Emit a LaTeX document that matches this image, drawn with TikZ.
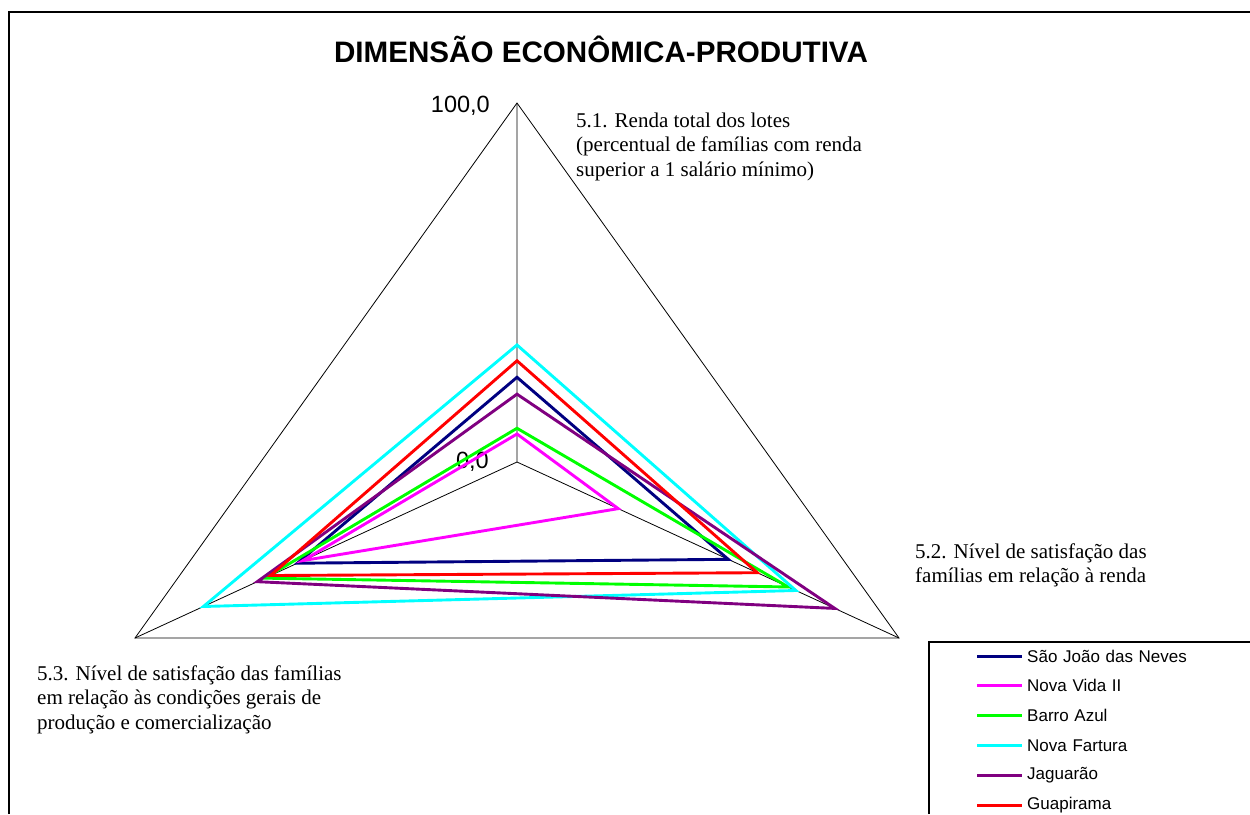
\documentclass[tikz,border=0pt]{standalone}
\usepackage{fontspec}
\setmainfont{Liberation Serif}
\setsansfont{Liberation Sans}
\usetikzlibrary{positioning,calc}
\definecolor{sjneves}{RGB}{0,0,128}
\definecolor{novavida}{RGB}{255,0,255}
\definecolor{barroazul}{RGB}{0,255,0}
\definecolor{novafartura}{RGB}{0,255,255}
\definecolor{jaguarao}{RGB}{128,0,128}
\definecolor{guapirama}{RGB}{255,0,0}

\begin{document}
\begin{tikzpicture}[x=1pt, y=-1pt, node distance=0pt]
    \tikzstyle{axis} = [line width=0.8pt, black]
    \tikzstyle{serie} = [line width=2.9pt, line join=miter]
    \tikzstyle{axislabel} = [font=\fontsize{21}{24.5}\selectfont, align=left,
        anchor=base west, inner sep=0pt]
    \tikzstyle{scalelabel} = [font=\sffamily\fontsize{23.5}{26}\selectfont,
        anchor=base east, inner sep=0pt]
    \tikzstyle{legtext} = [font=\sffamily\fontsize{17}{20}\selectfont,
        text width=200pt, minimum height=29.4pt, inner sep=0pt, align=left]
    \tikzstyle{legline} = [line width=3pt]

    \useasboundingbox (0,0) rectangle (1250,814);
    \draw [line width=2pt] (9,814) -- (9,12) -- (1250,12);
    \node [font=\sffamily\bfseries\fontsize{29.6}{32}\selectfont, anchor=base] (title) at (601,62) {DIMENSÃO ECONÔMICA-PRODUTIVA};

    % axes
    \coordinate (centre) at (517,462);
    \coordinate (renda) at (517,103);
    \coordinate (satrenda) at (899,638);
    \coordinate (satprod) at (135,638);
    \draw [axis] (renda) -- (satrenda) -- (satprod) -- cycle;
    \draw [axis] (centre) -- (renda) (centre) -- (satrenda) (centre) -- (satprod);
    \node [scalelabel] (max) at (490,112) {100,0};
    \node [scalelabel] (min) at (489,468) {0,0};

    % labels (anchored on the last line)
    \node [axislabel] (lbrenda) at (576,176) {5.1. Renda total dos lotes\\(percentual de famílias com renda\\superior a 1 salário mínimo)};
    \node [axislabel] (lbsatrenda) at (915,582.5) {5.2. Nível de satisfação das\\famílias em relação à renda};
    \node [axislabel] (lbsatprod) at (37,729) {5.3. Nível de satisfação das famílias\\em relação às condições gerais de\\produção e comercialização};

    % series
    \draw [serie, sjneves] ($(centre)!0.236!(renda)$) -- ($(centre)!0.553!(satrenda)$) -- ($(centre)!0.575!(satprod)$) -- cycle;
    \draw [serie, novavida] ($(centre)!0.078!(renda)$) -- ($(centre)!0.265!(satrenda)$) -- ($(centre)!0.56!(satprod)$) -- cycle;
    \draw [serie, barroazul] ($(centre)!0.094!(renda)$) -- ($(centre)!0.71!(satrenda)$) -- ($(centre)!0.66!(satprod)$) -- cycle;
    \draw [serie, novafartura] ($(centre)!0.326!(renda)$) -- ($(centre)!0.73!(satrenda)$) -- ($(centre)!0.821!(satprod)$) -- cycle;
    \draw [serie, jaguarao] ($(centre)!0.189!(renda)$) -- ($(centre)!0.832!(satrenda)$) -- ($(centre)!0.68!(satprod)$) -- cycle;
    \draw [serie, guapirama] ($(centre)!0.282!(renda)$) -- ($(centre)!0.629!(satrenda)$) -- ($(centre)!0.645!(satprod)$) -- cycle;

    % legend
    \draw [line width=1.2pt] (929,814) -- (929,642) -- (1250,642);
    \node [legtext, anchor=west] (leg1) at (1027,656) {São João das Neves};
    \node [legtext, below=of leg1] (leg2) {Nova Vida II};
    \node [legtext, below=of leg2] (leg3) {Barro Azul};
    \node [legtext, below=of leg3] (leg4) {Nova Fartura};
    \node [legtext, below=of leg4] (leg5) {Jaguarão};
    \node [legtext, below=of leg5] (leg6) {Guapirama};
    \draw [legline, sjneves] ([xshift=-50pt]leg1.west) -- ([xshift=-5pt]leg1.west);
    \draw [legline, novavida] ([xshift=-50pt]leg2.west) -- ([xshift=-5pt]leg2.west);
    \draw [legline, barroazul] ([xshift=-50pt]leg3.west) -- ([xshift=-5pt]leg3.west);
    \draw [legline, novafartura] ([xshift=-50pt]leg4.west) -- ([xshift=-5pt]leg4.west);
    \draw [legline, jaguarao] ([xshift=-50pt]leg5.west) -- ([xshift=-5pt]leg5.west);
    \draw [legline, guapirama] ([xshift=-50pt]leg6.west) -- ([xshift=-5pt]leg6.west);
\end{tikzpicture}
\end{document}
